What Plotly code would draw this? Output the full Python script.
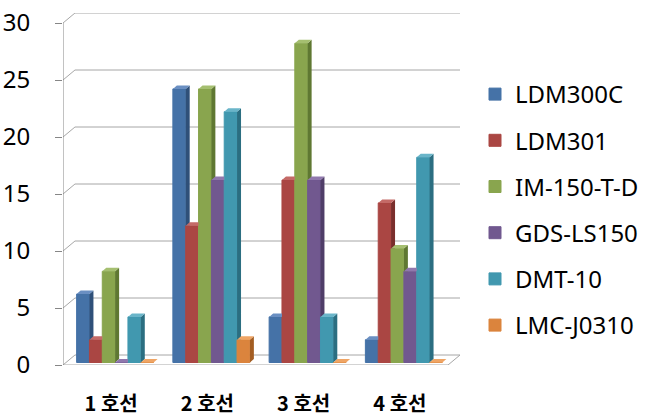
import plotly.graph_objects as go

# ---------------- data ----------------
categories = ["1 호선", "2 호선", "3 호선", "4 호선"]
series_names = ["LDM300C", "LDM301", "IM-150-T-D", "GDS-LS150", "DMT-10", "LMC-J0310"]
ldm300c = [6, 24, 4, 2]
ldm301 = [2, 12, 16, 14]
im150td = [8, 24, 28, 10]
gdsls150 = [0, 16, 16, 8]
dmt10 = [4, 22, 4, 18]
lmcj0310 = [0, 2, 0, 0]
y_tick_values = [0, 5, 10, 15, 20, 25, 30]

series_values = [ldm300c, ldm301, im150td, gdsls150, dmt10, lmcj0310]

# ---------------- style ----------------
front_colors = ["#4572A7", "#AA4643", "#89A54E", "#71588F", "#4198AF", "#DB843D"]
side_colors = ["#2F5079", "#7A2E2C", "#5F7832", "#4F3D68", "#2B6E81", "#A35D22"]
top_colors = ["#6A8FC2", "#C46A67", "#A5BF70", "#9078AD", "#6AB5C9", "#EFA565"]
grid_color = "#A6A6A6"
axis_color = "#868686"

W, H = 655, 416
PL, PR, PT, PB = 63, 460, 13, 365   # plot-area pixel edges
front_right = 449
front_top = 23                      # pixel row of the top tick on the front axis
n = len(categories)
px_per_cat = (front_right - PL) / n
y_top_val = y_tick_values[-1]
px_per_unit = (PB - front_top) / y_top_val
wall_dx = 12 / px_per_cat           # depth of walls in data units
wall_dy = 10 / px_per_unit
bar_dx = 4 / px_per_cat             # depth of bars in data units
bar_dy = 3.5 / px_per_unit
bar_shift_x = 4 / px_per_cat        # bars stand a little behind the front plane
bar_shift_y = 2.5 / px_per_unit

x_lo = -0.5
x_hi = n - 0.5 + wall_dx
y_hi = y_top_val + wall_dy

group_w = 0.8
ns = len(series_names)
bw = group_w / ns
xs = list(range(n))

fig = go.Figure()


def clip_above(poly, c):
    """Sutherland-Hodgman clip of polygon to y >= c."""
    out = []
    m = len(poly)
    for k in range(m):
        p, q = poly[k], poly[(k + 1) % m]
        pin, qin = p[1] >= c, q[1] >= c
        if pin:
            out.append(p)
        if pin != qin:
            t = (c - p[1]) / (q[1] - p[1])
            out.append((p[0] + t * (q[0] - p[0]), c))
    return out


def add_polys(polys, color):
    xx, yy = [], []
    for poly in polys:
        if len(poly) < 3:
            continue
        for (a, b) in poly:
            xx.append(a)
            yy.append(b)
        xx.append(poly[0][0])
        yy.append(poly[0][1])
        xx.append(None)
        yy.append(None)
    if not xx:
        return
    fig.add_trace(go.Scatter(x=xx, y=yy, mode="lines", fill="toself",
                             fillcolor=color, line=dict(width=0, color=color),
                             hoverinfo="skip", showlegend=False))


def bar_left(j):
    return -group_w / 2 + j * bw + bar_shift_x


# front faces as real bars
for j, (name, vals) in enumerate(zip(series_names, series_values)):
    fig.add_trace(go.Bar(x=xs, y=vals, name=name, legendgroup=name,
                         width=bw, offset=bar_left(j), base=bar_shift_y,
                         marker=dict(color=front_colors[j],
                                     line=dict(width=1, color=front_colors[j]))))

# side and top faces (3-D look), hidden where the next bar covers them
for j, vals in enumerate(series_values):
    sides, tops, tris = [], [], []
    for i, v in enumerate(vals):
        xl = i + bar_left(j)
        xr = xl + bw
        b0 = bar_shift_y
        t = v + bar_shift_y
        nxt = (series_values[j + 1][i] + bar_shift_y) if j + 1 < ns else 0
        side = [(xr, b0), (xr + bar_dx, b0 + bar_dy), (xr + bar_dx, t + bar_dy), (xr, t)]
        top_left = [(xl, t), (xl + bar_dx, t + bar_dy), (xr, t + bar_dy), (xr, t)]
        top_tri = [(xr, t), (xr, t + bar_dy), (xr + bar_dx, t + bar_dy)]
        sides.append(clip_above(side, nxt))
        tops.append(top_left)
        tris.append(clip_above(top_tri, nxt))
    add_polys(sides, side_colors[j])
    add_polys(tops + tris, top_colors[j])

# walls / gridlines / floor as shapes computed from the axis values
shapes = []
for v in y_tick_values:
    shapes.append(dict(type="line", xref="x", yref="y", layer="below",
                       x0=x_lo + wall_dx, x1=x_hi, y0=v + wall_dy, y1=v + wall_dy,
                       line=dict(color=grid_color, width=1)))
    shapes.append(dict(type="line", xref="x", yref="y", layer="below",
                       x0=x_lo, x1=x_lo + wall_dx, y0=v, y1=v + wall_dy,
                       line=dict(color=grid_color, width=1)))
# floor front edge and right edge
shapes.append(dict(type="line", xref="x", yref="y", layer="below",
                   x0=x_lo, x1=n - 0.5, y0=0, y1=0, line=dict(color=grid_color, width=1)))
shapes.append(dict(type="line", xref="x", yref="y", layer="below",
                   x0=n - 0.5, x1=n - 0.5 + wall_dx, y0=0, y1=wall_dy,
                   line=dict(color=grid_color, width=1)))
# front vertical axis
shapes.append(dict(type="line", xref="x", yref="y", layer="below",
                   x0=x_lo, x1=x_lo, y0=0, y1=y_top_val, line=dict(color=axis_color, width=1)))
# category boundary ticks
for b in range(n + 1):
    shapes.append(dict(type="line", xref="x", yref="y", layer="below",
                       x0=b - 0.5, x1=b - 0.5, ysizemode="pixel", yanchor=0,
                       y0=0, y1=-9, line=dict(color=grid_color, width=1)))

fig.update_layout(
    width=W, height=H,
    margin=dict(l=PL, r=W - PR, t=PT, b=H - PB, pad=0, autoexpand=False),
    paper_bgcolor="white", plot_bgcolor="white",
    barmode="overlay",
    shapes=shapes,
    showlegend=True,
    legend=dict(xref="container", yref="container", x=475 / W, y=1 - 72 / H,
                xanchor="left", yanchor="top", maxheight=380,
                font=dict(family="Noto Sans", size=24, color="#000"),
                tracegroupgap=12, bgcolor="rgba(0,0,0,0)"),
    xaxis=dict(range=[x_lo, x_hi], tickmode="array", tickvals=xs, ticktext=categories,
               showgrid=False, zeroline=False, showline=False, ticks="",
               automargin=False,
               tickfont=dict(family="Noto Sans CJK KR", size=20, color="#000", weight=700),
               ticklabelstandoff=25),
    yaxis=dict(range=[0, y_hi], tickmode="array", tickvals=y_tick_values,
               showgrid=False, zeroline=False, showline=False, automargin=False,
               ticks="outside", ticklen=7, tickcolor=axis_color, tickwidth=1,
               tickfont=dict(family="Noto Sans", size=24, color="#000"),
               ticklabelstandoff=20),
)

fig.write_html("out.html")
